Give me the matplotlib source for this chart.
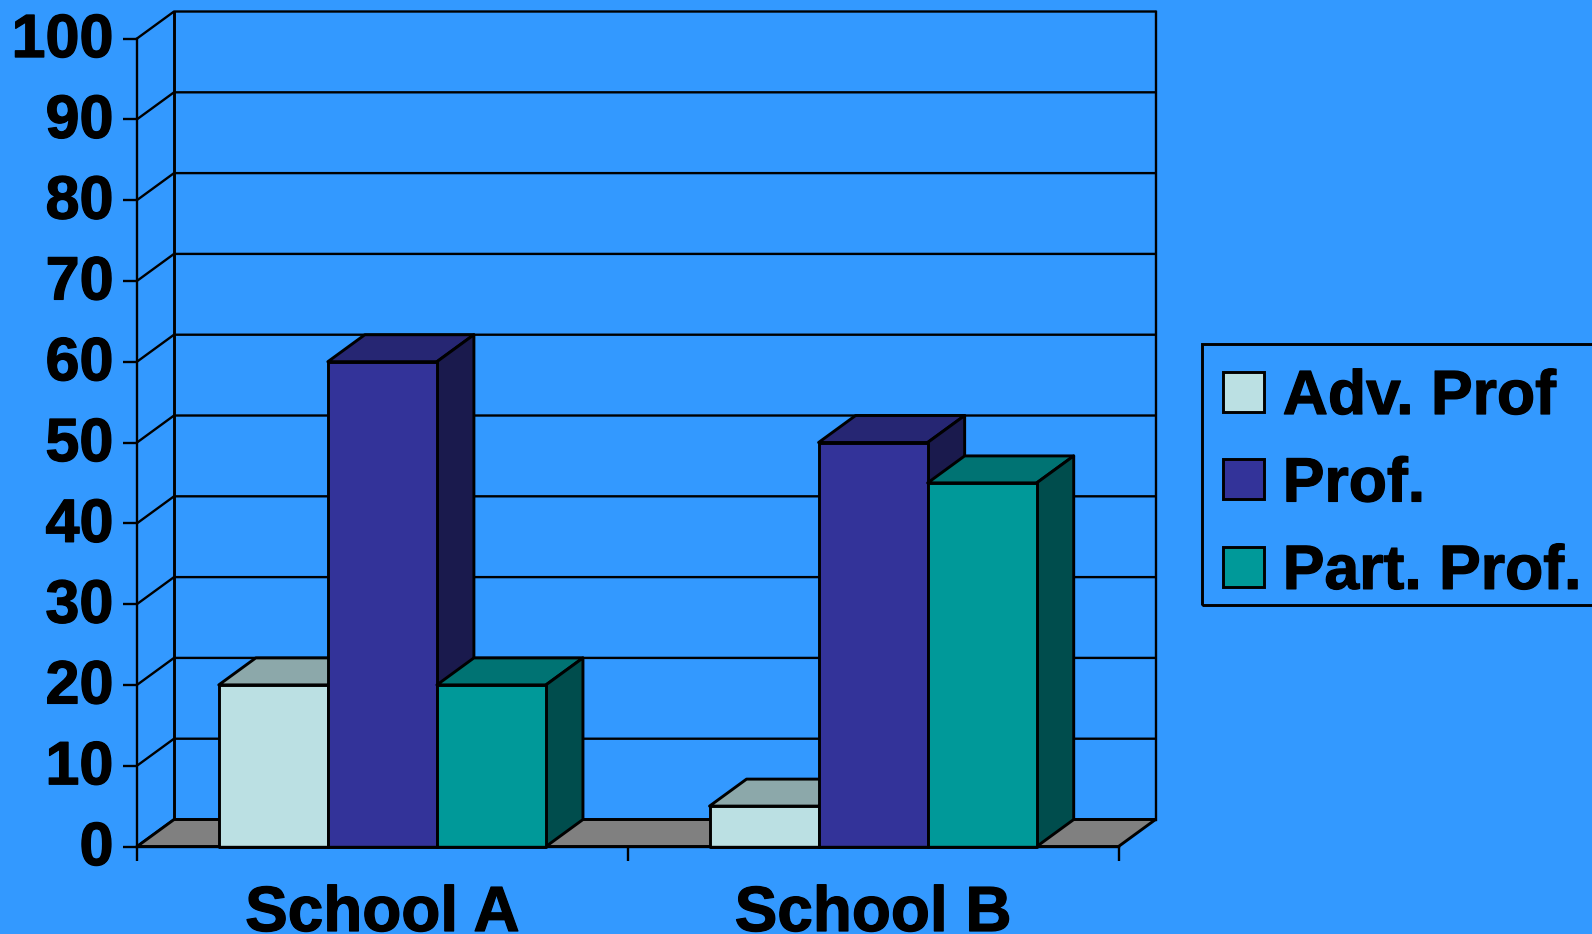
import matplotlib
matplotlib.use('Agg')
import matplotlib.pyplot as plt
import matplotlib.patheffects as pe
from matplotlib.patches import Polygon, Patch, Rectangle
from matplotlib.transforms import ScaledTranslation

schools = ['School A', 'School B']
series_names = ['Adv. Prof', 'Prof.', 'Part. Prof.']
adv_prof = [20, 5]
prof = [60, 50]
part_prof = [20, 45]
y_ticks = [0, 10, 20, 30, 40, 50, 60, 70, 80, 90, 100]

bg = '#3399FF'
front_colors = ['#BBE0E3', '#333399', '#009999']
top_colors = ['#8CA8AA', '#262673', '#007373']
side_colors = ['#5E7072', '#1A1A4D', '#004D4D']
floor_color = '#808080'

# 3d look: how far the back wall is shifted, in data units
depth_x = 0.0754
depth_y = 3.34
bar_w = 1 / 4.5
edge_w = 2.1
grid_w = 1.7

plt.rcParams['font.family'] = ['Liberation Sans', 'DejaVu Sans']
plt.rcParams['font.weight'] = 'bold'

fig = plt.figure(figsize=(15.92, 9.34), dpi=100, facecolor=bg)
ax = fig.add_axes([137 / 1592, 1 - 846.5 / 934, 981.5 / 1592, 808 / 934], facecolor='none')
ax.set_xlim(0, 2)
ax.set_ylim(0, 100)

# arial bold in the picture is heavier than plain liberation bold
heavy = [pe.withStroke(linewidth=0.9, foreground='black')]


def face(points, color, z):
    ax.add_patch(Polygon(points, closed=True, facecolor=color, edgecolor='black',
                         linewidth=edge_w, joinstyle='round', zorder=z, clip_on=False))


def bar3d(x, value, k, z):
    x2 = x + bar_w
    face([(x, value), (x2, value), (x2 + depth_x, value + depth_y), (x + depth_x, value + depth_y)],
         top_colors[k], z)
    face([(x2, 0), (x2 + depth_x, depth_y), (x2 + depth_x, value + depth_y), (x2, value)],
         side_colors[k], z)
    face([(x, 0), (x2, 0), (x2, value), (x, value)], front_colors[k], z)


# walls
for v in y_ticks:
    ax.plot([0, depth_x, 2 + depth_x], [v, v + depth_y, v + depth_y], color='black',
            lw=grid_w, clip_on=False, zorder=1, solid_joinstyle='round')
ax.plot([depth_x, depth_x], [depth_y, 100 + depth_y], color='black', lw=edge_w, clip_on=False, zorder=1)
ax.plot([2 + depth_x, 2 + depth_x], [depth_y, 100 + depth_y], color='black', lw=grid_w, clip_on=False, zorder=1)

# floor
face([(0, 0), (2, 0), (2 + depth_x, depth_y), (depth_x, depth_y)], floor_color, 2)

# bars, left to right so the nearer ones cover the others
z = 3
for i in range(len(schools)):
    start = i + 0.75 * bar_w
    for k, values in enumerate([adv_prof, prof, part_prof]):
        bar3d(start + k * bar_w, values[i], k, z)
        z += 1

for side in ['top', 'right']:
    ax.spines[side].set_visible(False)
for side in ['left', 'bottom']:
    ax.spines[side].set_linewidth(grid_w)
    ax.spines[side].set_zorder(20)

ax.set_yticks(y_ticks)
ax.set_xticks([0, 1, 2])
ax.set_xticklabels([])
ax.set_xticks([0.5, 1.5], minor=True)
ax.set_xticklabels(schools, minor=True)
ax.tick_params(axis='y', length=10, width=grid_w, labelsize=44, pad=7)
ax.tick_params(axis='x', which='major', length=10, width=grid_w)
ax.tick_params(axis='x', which='minor', length=0, labelsize=46, pad=27)

up = ScaledTranslation(0, 2.5 / 72, fig.dpi_scale_trans)
for label in ax.get_yticklabels():
    label.set_transform(label.get_transform() + up)
    label.set_path_effects(heavy)
for label in ax.get_xticklabels(minor=True):
    label.set_path_effects(heavy)

# legend box runs off the right edge of the picture
fig.add_artist(Rectangle((1202 / 1592, 1 - 605 / 934), 500 / 1592, 261 / 934, transform=fig.transFigure,
                         facecolor='none', edgecolor='black', linewidth=edge_w))
handles = [Patch(facecolor=c, edgecolor='black', linewidth=edge_w) for c in front_colors]
leg = fig.legend(handles, series_names, loc='upper left',
                 bbox_to_anchor=(1223 / 1592, 1 - 368 / 934), bbox_transform=fig.transFigure,
                 fontsize=45, frameon=False,
                 handlelength=0.656, handleheight=0.61, handletextpad=0.30,
                 labelspacing=0.455, borderpad=0, borderaxespad=0)
for t in leg.get_texts():
    t.set_path_effects(heavy)

fig.savefig('out.png', dpi=100, facecolor=bg)
